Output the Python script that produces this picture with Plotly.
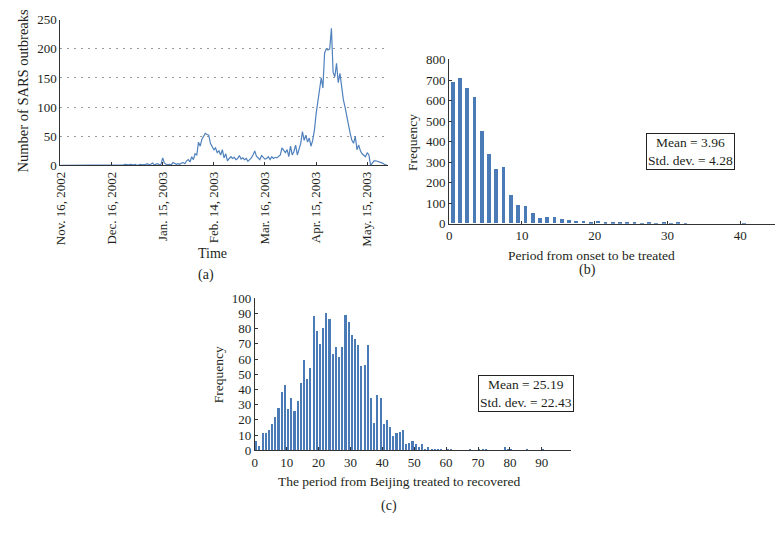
import plotly.graph_objects as go
import pandas as pd

# ---------------- Data ----------------
# (a) Daily SARS outbreaks starting Nov. 16, 2002
start_date = "2002-11-16"
daily_outbreaks = [
    0, 0, 0, 0, 1, 0, 0, 0, 1, 0,
    0, 0, 1, 0, 0, 0, 0, 0, 1, 0,
    0, 0, 0, 1, 0, 0, 0, 0, 0, 0,
    0, 1, 0, 0, 1, 1, 0, 1, 2, 1,
    1, 2, 1, 1, 2, 0, 1, 2, 1, 1,
    2, 3, 1, 2, 4, 1, 2, 3, 1, 2,
    13, 4, 2, 1, 2, 1, 5, 3, 2, 3,
    2, 4, 5, 3, 8, 10, 6, 15, 10, 20,
    18, 40, 33, 45, 50, 55, 53, 52, 38, 33,
    27, 30, 22, 25, 18, 27, 13, 20, 8, 12,
    15, 12, 14, 10, 12, 17, 11, 13, 10, 12,
    7, 10, 13, 18, 25, 16, 13, 10, 17, 14,
    11, 12, 15, 10, 15, 12, 14, 13, 16, 18,
    30, 25, 22, 27, 15, 33, 18, 24, 35, 18,
    30, 38, 58, 43, 52, 40, 47, 33, 43, 60,
    88, 110, 130, 150, 133, 193, 200, 198, 200, 235,
    160, 152, 175, 142, 158, 135, 113, 100, 83, 68,
    55, 43, 38, 50, 27, 35, 25, 20, 17, 15,
    22, 18, 0, 5, 8, 8, 7, 7, 6, 4,
    2, 1, 0,
]
date_tick_vals = ["2002-11-16", "2002-12-16", "2003-01-15", "2003-02-14",
                  "2003-03-16", "2003-04-15", "2003-05-15"]
date_tick_text = ["Nov. 16, 2002", "Dec. 16, 2002", "Jan. 15, 2003", "Feb. 14, 2003",
                  "Mar. 16, 2003", "Apr. 15, 2003", "May. 15, 2003"]

# (b) Period from onset to be treated (days) -> frequency
onset_freq = [690, 707, 657, 613, 449, 337, 265, 276, 139, 87,
              85, 49, 27, 33, 32, 22, 14, 10, 13, 8,
              11, 8, 5, 3, 2, 3, 1, 2, 1, 2,
              1, 3, 1, 0, 0, 0, 0, 0, 0, 0,
              1]

# (c) Period from Beijing treated to recovered (days) -> frequency
recover_freq = [6, 3, 11, 11, 13, 17, 22, 28, 38, 43,
                27, 34, 26, 32, 44, 59, 47, 54, 88, 78,
                70, 80, 90, 86, 63, 68, 61, 68, 89, 84,
                76, 73, 69, 55, 56, 69, 34, 18, 36, 34,
                17, 20, 15, 9, 11, 12, 13, 4, 5, 6,
                4, 2, 4, 1, 2, 1, 1, 1, 1, 0,
                1, 1, 0, 0, 0, 0, 0, 1, 0, 0,
                1, 1, 1, 0, 0, 0, 0, 0, 2, 1,
                1, 0, 0, 0, 0, 1, 0, 0, 0, 0,
                1, 0, 0, 0, 0, 0, 0, 0, 0, 1]

onset_stats = "Mean = 3.96<br>Std. dev. = 4.28"
recover_stats = "Mean = 25.19<br>Std. dev. = 22.43"

# ---------------- Figure ----------------
W, H = 784, 539
FONT = "Liberation Serif, Times New Roman, serif"
TXT = "#231f20"
LINE_BLUE = "#4f81bd"
BAR_BLUE = "#4a7bb7"

dates = pd.date_range(start_date, periods=len(daily_outbreaks), freq="D")
onset_x = [k + 0.5 for k in range(len(onset_freq))]
recover_x = [k + 0.45 for k in range(len(recover_freq))]

def px_x(x):
    return x / W

def px_y(y):
    return 1 - y / H

fig = go.Figure()
fig.add_trace(go.Scatter(x=dates, y=daily_outbreaks, mode="lines",
                         line=dict(color=LINE_BLUE, width=1.2),
                         xaxis="x", yaxis="y", showlegend=False))
fig.add_trace(go.Bar(x=onset_x, y=onset_freq, width=0.52, marker=dict(color=BAR_BLUE, line=dict(width=0)),
                     xaxis="x2", yaxis="y2", showlegend=False))
fig.add_trace(go.Bar(x=recover_x, y=recover_freq, width=0.5, marker=dict(color=BAR_BLUE, line=dict(width=0)),
                     xaxis="x3", yaxis="y3", showlegend=False))

axis_common = dict(showline=True, linecolor="#333", linewidth=1, zeroline=False,
                   tickfont=dict(family=FONT, size=13, color=TXT), ticks="inside",
                   ticklen=3, tickcolor="#333")

fig.update_layout(
    width=W, height=H,
    margin=dict(l=0, r=0, t=0, b=0),
    paper_bgcolor="white", plot_bgcolor="white",
    font=dict(family=FONT, color=TXT),
    bargap=0,
    xaxis=dict(axis_common, domain=[px_x(53), px_x(384)], anchor="y", type="date",
               range=["2002-11-16", "2003-05-27 06:00"], tickmode="array",
               tickvals=date_tick_vals, ticktext=date_tick_text, tickangle=-90,
               showgrid=False),
    yaxis=dict(axis_common, domain=[px_y(163), px_y(13)], anchor="x", range=[0, 250],
               dtick=50, ticks="", showgrid=True, gridcolor="#9a9a9a", gridwidth=1,
               griddash="2px,5px"),
    xaxis2=dict(axis_common, domain=[px_x(445.7), px_x(775)], anchor="y2",
                range=[0, 44.8], tickvals=[0, 10, 20, 30, 40], showgrid=False),
    yaxis2=dict(axis_common, domain=[px_y(223), px_y(54)], anchor="x2",
                range=[0, 800], dtick=100, showgrid=False),
    xaxis3=dict(axis_common, domain=[px_x(249.3), px_x(568.3)], anchor="y3",
                range=[0, 99], tickvals=list(range(0, 100, 10)), showgrid=False),
    yaxis3=dict(axis_common, domain=[px_y(456), px_y(299.5)], anchor="x3",
                range=[0, 100], dtick=10, showgrid=False),
)

def label(text, x, y, size=13, angle=0, **kw):
    fig.add_annotation(text=text, x=px_x(x), y=px_y(y), xref="paper", yref="paper",
                       showarrow=False, textangle=angle,
                       font=dict(family=FONT, size=size, color=TXT),
                       xanchor="center", yanchor="middle", **kw)

# panel (a)
label("Number of SARS outbreaks", 15, 86, size=14.5, angle=-90)
label("Time", 207, 254, size=14)
label("(a)", 200, 276, size=14)
# panel (b)
label("Frequency", 408, 139, size=13.5, angle=-90)
label("Period from onset to be treated", 590, 256, size=13.5)
label("(b)", 585, 271, size=14)
label(onset_stats, 690, 149, size=13.5, bordercolor="#222", borderwidth=1,
      borderpad=1, bgcolor="white")
# panel (c)
label("Frequency", 213, 378, size=13.5, angle=-90)
label("The period from Beijing treated to recovered", 395, 488, size=13.5)
label("(c)", 385, 513, size=14)
label(recover_stats, 523, 397.5, size=13.5, bordercolor="#222", borderwidth=1,
      borderpad=1, bgcolor="white")

fig.write_html("out.html", config={"displayModeBar": False},
               post_script="document.body.style.margin='0';document.body.style.overflow='hidden';")
